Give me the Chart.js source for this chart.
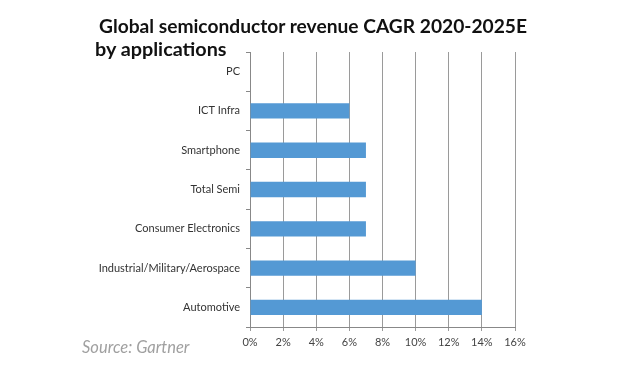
<!DOCTYPE html>
<html>
<head>
<meta charset="utf-8">
<script src="https://cdn.jsdelivr.net/npm/chart.js@4"></script>
<style>
  html, body { margin: 0; padding: 0; background: #fff; }
  #wrap { position: relative; width: 635px; height: 380px; overflow: hidden; }
  canvas { position: absolute; left: 0; top: 0; }
  .t { position: absolute; font-family: Lato, "Open Sans", sans-serif; font-weight: bold; color: #111; white-space: nowrap; line-height: 1; }
  #src { position: absolute; left: 82px; top: 339px; font-family: Lato, "Open Sans", sans-serif; font-style: italic; font-size: 16.5px; color: #a0a0a0; white-space: nowrap; line-height: 1; }
</style>
</head>
<body>
<div id="wrap">
  <canvas id="c" width="635" height="380"></canvas>
  <div class="t" id="t1" style="left:99px; top:16px; font-size:19.2px;">Global semiconductor revenue CAGR 2020-2025E</div>
  <div class="t" id="t2" style="left:95px; top:39px; font-size:19.8px;">by applications</div>
  <div id="src">Source: Gartner</div>
</div>
<script>
const categories = ["PC", "ICT Infra", "Smartphone", "Total Semi", "Consumer Electronics", "Industrial/Military/Aerospace", "Automotive"];
const cagrValues = [0, 6, 7, 7, 7, 10, 14];
const xTickMax = 16;
const xTickStep = 2;

new Chart(document.getElementById('c'), {
  type: 'bar',
  data: {
    labels: categories,
    datasets: [{
      data: cagrValues,
      backgroundColor: '#5499d4',
      borderWidth: 0,
      categoryPercentage: 1,
      barPercentage: 0.39
    }]
  },
  options: {
    indexAxis: 'y',
    responsive: false,
    animation: false,
    layout: { padding: { left: 0, top: 52, right: 120, bottom: 0 } },
    plugins: { legend: { display: false }, tooltip: { enabled: false }, title: { display: false } },
    scales: {
      x: {
        min: 0, max: xTickMax,
        ticks: {
          stepSize: xTickStep,
          callback: v => v + '%',
          font: { family: 'Lato, "Open Sans", sans-serif', size: 11 },
          color: '#444',
          padding: 5
        },
        grid: { color: '#9a9a9a', lineWidth: 1, tickLength: 4, drawTicks: true },
        border: { color: '#888', width: 1 },
        afterFit: s => { s.height = 53; }
      },
      y: {
        ticks: {
          font: { family: 'Lato, "Open Sans", sans-serif', size: 11 },
          color: '#333',
          padding: 6
        },
        grid: { offset: true, drawOnChartArea: false, tickLength: 4, color: '#888' },
        border: { color: '#888', width: 1 },
        afterFit: s => { s.width = 250; }
      }
    }
  }
});
</script>
</body>
</html>
